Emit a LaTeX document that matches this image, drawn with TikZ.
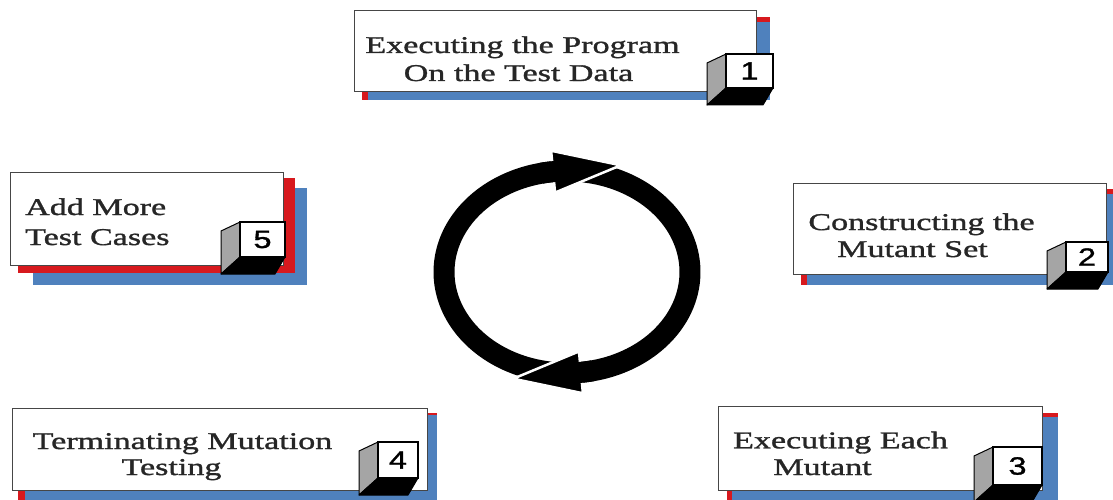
\documentclass[tikz,border=0pt]{standalone}
\usepackage{fontspec}
\newfontfamily\boxfont[FakeStretch=1.42, FakeBold=1.3]{Liberation Serif}
\newfontfamily\numfont[FakeStretch=1.3, FakeBold=1.2]{Liberation Sans}
\definecolor{shadowblue}{RGB}{79,129,189}
\definecolor{shadowred}{RGB}{215,25,30}
\definecolor{sidegray}{RGB}{165,165,165}
\definecolor{rimgray}{RGB}{70,70,70}

\tikzset{
  card/.style={fill=white, draw=rimgray, line width=1pt},
  blueshade/.style={fill=shadowblue},
  redshade/.style={fill=shadowred},
  cardtext/.style={font=\boxfont\fontsize{24}{27}\selectfont, inner sep=0pt, anchor=base,
    text=black!85},
  cubefront/.style={fill=white, draw=black, line width=1.5pt, inner sep=0pt,
    font=\numfont\fontsize{25}{25}\selectfont},
  cubeside/.style={fill=sidegray, draw=black, line width=1pt, line join=round},
  cubebottom/.style={fill=black, draw=black, line width=1pt, line join=round},
  ring/.style={line width=21pt, black, line cap=butt},
  headtip/.style={fill=black, draw=white, line width=2.5pt, line join=miter},
}

% numbered 3-D cube: name, front face x1,y1,x2,y2, digit
\newcommand\numcube[6]{%
  \filldraw[cubeside] (#2,#3) -- (#2-19,#3+9) -- (#2-19,#5+17) -- (#2,#5) -- cycle;
  \filldraw[cubebottom] (#2,#5) -- (#4,#5) -- (#4-10,#5+17) -- (#2-19,#5+17) -- cycle;
  \node[cubefront, minimum width={(#4-#2)*1pt}, minimum height={(#5-#3)*1pt}]
    (#1) at ({(#2+#4)/2},{(#3+#5)/2}) {#6};
}

\begin{document}
\begin{tikzpicture}[x=1pt, y=-1pt]
  \useasboundingbox (0,0) rectangle (1113,500);
  \clip (0,0) rectangle (1113,500);
  \fill[white] (0,0) rectangle (1113,500);

  % step 1
  \fill[redshade] (362,17) rectangle (770,100);
  \fill[blueshade] (368,22) rectangle (770,100);
  \filldraw[card] (354,11) rectangle (756,92);
  \numcube{n1}{726}{54}{773}{88}{1}
  \node[cardtext] (t1a) at (522.5,53) {Executing the Program};
  \node[cardtext] (t1b) at (518.5,81) {On the Test Data};

  % step 2
  \fill[redshade] (801,189) rectangle (1120,285);
  \fill[blueshade] (807,194) rectangle (1120,285);
  \filldraw[card] (793,183) rectangle (1106,274);
  \numcube{n2}{1066}{242}{1108}{272}{2}
  \node[cardtext] (t2a) at (921.5,230) {Constructing the};
  \node[cardtext] (t2b) at (912.5,257) {Mutant Set};

  % step 3
  \fill[redshade] (727,413) rectangle (1058,505);
  \fill[blueshade] (732,417) rectangle (1058,505);
  \filldraw[card] (718,406) rectangle (1042,490);
  \numcube{n3}{993}{447}{1042}{485}{3}
  \node[cardtext] (t3a) at (840.5,448.3) {Executing Each};
  \node[cardtext] (t3b) at (822.5,475) {Mutant};

  % step 4
  \fill[redshade] (18,413) rectangle (437,505);
  \fill[blueshade] (25,415) rectangle (437,505);
  \filldraw[card] (12,408) rectangle (427,490);
  \numcube{n4}{378}{442}{418}{478}{4}
  \node[cardtext] (t4a) at (182.5,449) {Terminating Mutation};
  \node[cardtext] (t4b) at (171.5,475) {Testing};

  % step 5
  \fill[blueshade] (33,188) rectangle (307,285);
  \fill[redshade] (18,178) rectangle (295,273);
  \filldraw[card] (10,172) rectangle (283,265);
  \numcube{n5}{240}{222}{285}{257}{5}
  \node[cardtext, anchor=base west] (t5a) at (25,215) {Add More};
  \node[cardtext, anchor=base west] (t5b) at (25,245) {Test Cases};

  % cycle ring: two arcs, each ending in a broad arrow head
  \draw[ring] plot[domain=96.5:268, samples=90] ({567+123*cos(\x)},{272-101*sin(\x)});
  \draw[ring] plot[domain=-83.5:88, samples=90] ({567+123*cos(\x)},{272-101*sin(\x)});
  \filldraw[headtip] (551.12,150.74) -- (620.8,165.3) -- (555.04,192.56) -- cycle;
  \filldraw[headtip] (582.88,393.26) -- (513.2,378.7) -- (578.96,351.44) -- cycle;
  % join each arc smoothly into the back of its head
  \draw[ring] plot[domain=94:102, samples=12] ({567+123*cos(\x)},{272-101*sin(\x)});
  \draw[ring] plot[domain=-86:-78, samples=12] ({567+123*cos(\x)},{272-101*sin(\x)});
\end{tikzpicture}
\end{document}
